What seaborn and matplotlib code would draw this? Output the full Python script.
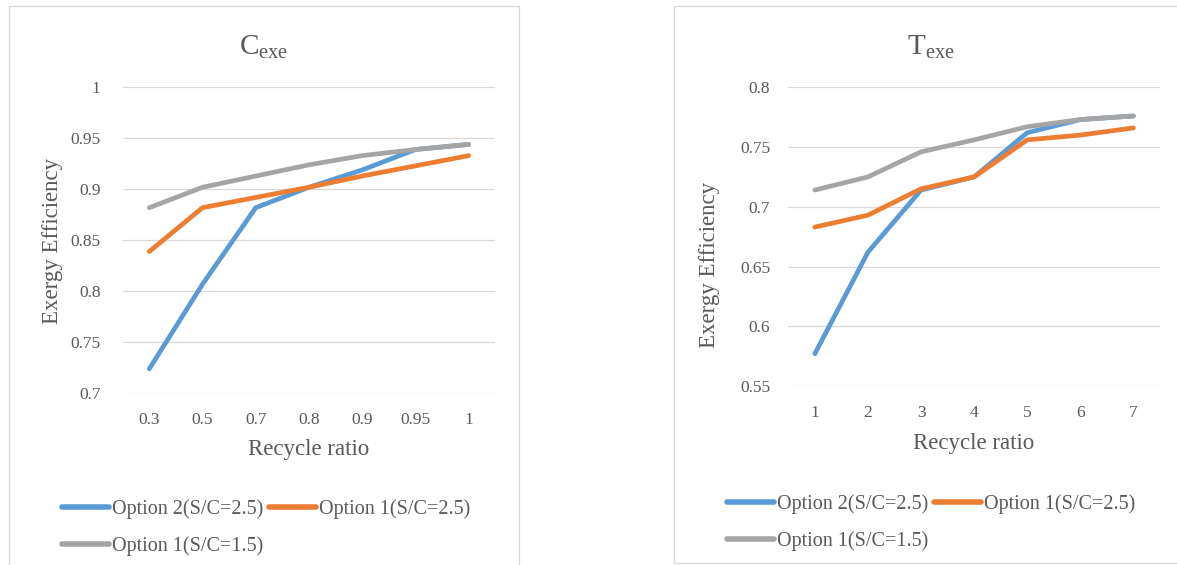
import matplotlib
matplotlib.use("Agg")
import matplotlib.pyplot as plt
from matplotlib.patches import Rectangle
import seaborn as sns
import pandas as pd

# Recycle ratio categories and exergy efficiency series
recycle_c = ["0.3", "0.5", "0.7", "0.8", "0.9", "0.95", "1"]
c_opt2_sc25 = [0.724, 0.807, 0.882, 0.902, 0.919, 0.939, 0.944]
c_opt1_sc25 = [0.839, 0.882, 0.892, 0.902, 0.913, 0.923, 0.933]
c_opt1_sc15 = [0.882, 0.902, 0.913, 0.924, 0.933, 0.939, 0.944]

recycle_t = [1, 2, 3, 4, 5, 6, 7]
t_opt2_sc25 = [0.577, 0.662, 0.714, 0.725, 0.762, 0.773, 0.776]
t_opt1_sc25 = [0.683, 0.693, 0.715, 0.725, 0.756, 0.760, 0.766]
t_opt1_sc15 = [0.714, 0.725, 0.746, 0.756, 0.767, 0.773, 0.776]

series_names = ["Option 2(S/C=2.5)", "Option 1(S/C=2.5)", "Option 1(S/C=1.5)"]
palette = ["#5B9BD5", "#ED7D31", "#A5A5A5"]

y_ticks_c = [0.7, 0.75, 0.8, 0.85, 0.9, 0.95, 1]
y_tick_labels_c = ["0.7", "0.75", "0.8", "0.85", "0.9", "0.95", "1"]
y_ticks_t = [0.55, 0.6, 0.65, 0.7, 0.75, 0.8]
y_tick_labels_t = ["0.55", "0.6", "0.65", "0.7", "0.75", "0.8"]


def long_frame(x, series):
    rows = []
    for name, vals in zip(series_names, series):
        for xv, yv in zip(x, vals):
            rows.append({"x": xv, "y": yv, "series": name})
    return pd.DataFrame(rows)


sns.set_theme(style="white")
plt.rcParams["font.family"] = ["Liberation Serif", "DejaVu Serif"]
TXT = "#595959"
GRID = "#D9D9D9"

W, H = 1177, 565
fig = plt.figure(figsize=(W / 100, H / 100), dpi=100)
fig.patch.set_facecolor("white")


def px_box(x0, y0, x1, y1):
    return [x0 / W, 1 - y1 / H, (x1 - x0) / W, (y1 - y0) / H]


# chart-area frames
for (x0, y0, x1, y1) in [(9, 6, 519, 600), (674, 6, 1220, 563)]:
    fig.patches.append(Rectangle((x0 / W, 1 - y1 / H), (x1 - x0) / W, (y1 - y0) / H,
                                 transform=fig.transFigure, fill=False,
                                 edgecolor=GRID, lw=1.0))

ax1 = fig.add_axes(px_box(122.7, 87.3, 495.3, 393.3))
ax2 = fig.add_axes(px_box(788.3, 87.3, 1160, 386))

df_c = long_frame(recycle_c, [c_opt2_sc25, c_opt1_sc25, c_opt1_sc15])
df_t = long_frame(recycle_t, [t_opt2_sc25, t_opt1_sc25, t_opt1_sc15])

for ax, df in [(ax1, df_c), (ax2, df_t)]:
    sns.lineplot(data=df, x="x", y="y", hue="series", hue_order=series_names,
                 palette=palette, sort=False, linewidth=3.4, ax=ax,
                 solid_capstyle="round", solid_joinstyle="round")

ax1.set_xlim(-0.5, len(recycle_c) - 0.5)
ax1.set_ylim(0.7, 1.0)
ax1.set_yticks(y_ticks_c, y_tick_labels_c)
ax2.set_xlim(0.5, 7.5)
ax2.set_xticks(recycle_t, [str(v) for v in recycle_t])
ax2.set_ylim(0.55, 0.8)
ax2.set_yticks(y_ticks_t, y_tick_labels_t)

for ax, ypad in [(ax1, 16), (ax2, 13)]:
    for s in ax.spines.values():
        s.set_visible(False)
    ax.grid(axis="y", color=GRID, lw=0.9)
    ax.grid(axis="x", visible=False)
    ax.set_axisbelow(True)
    ax.tick_params(axis="both", length=0, labelsize=12.5, colors=TXT)
    ax.tick_params(axis="x", pad=13.5)
    ax.tick_params(axis="y", pad=ypad)
    ax.set_xlabel("")
    ax.set_ylabel("")
    ax.get_legend().remove()

# titles and axis labels
fig.text(264 / W, 1 - 47 / H, r"$\mathregular{C_{exe}}$", ha="center", va="center",
         fontsize=21, color=TXT)
fig.text(931 / W, 1 - 47 / H, r"$\mathregular{T_{exe}}$", ha="center", va="center",
         fontsize=21, color=TXT)
fig.text(309 / W, 1 - 450 / H, "Recycle ratio", ha="center", va="center",
         fontsize=16.5, color=TXT)
fig.text(974 / W, 1 - 443 / H, "Recycle ratio", ha="center", va="center",
         fontsize=16.5, color=TXT)
fig.text(53 / W, 1 - 241 / H, "Exergy Efficiency", ha="center", va="center",
         rotation=90, fontsize=16.5, color=TXT)
fig.text(710 / W, 1 - 265 / H, "Exergy Efficiency", ha="center", va="center",
         rotation=90, fontsize=16.5, color=TXT)

# legends below each chart, filled row by row
legend_order = [0, 2, 1]
for ax, (lx, ly) in [(ax1, (62, 499)), (ax2, (727, 494))]:
    lines = ax.get_lines()[:3]
    handles = [lines[i] for i in legend_order]
    labels = [series_names[i] for i in legend_order]
    leg = fig.legend(handles, labels, loc="upper left",
                     bbox_to_anchor=(lx / W, 1 - ly / H), ncol=2, frameon=False,
                     fontsize=14.5, handlelength=2.35, handletextpad=0.15,
                     columnspacing=0.25, borderpad=0, borderaxespad=0,
                     labelspacing=0.85, labelcolor=TXT)
    for h in leg.legend_handles:
        h.set_linewidth(4)
        h.set_solid_capstyle("round")

fig.savefig("out.png", dpi=100, facecolor="white")
